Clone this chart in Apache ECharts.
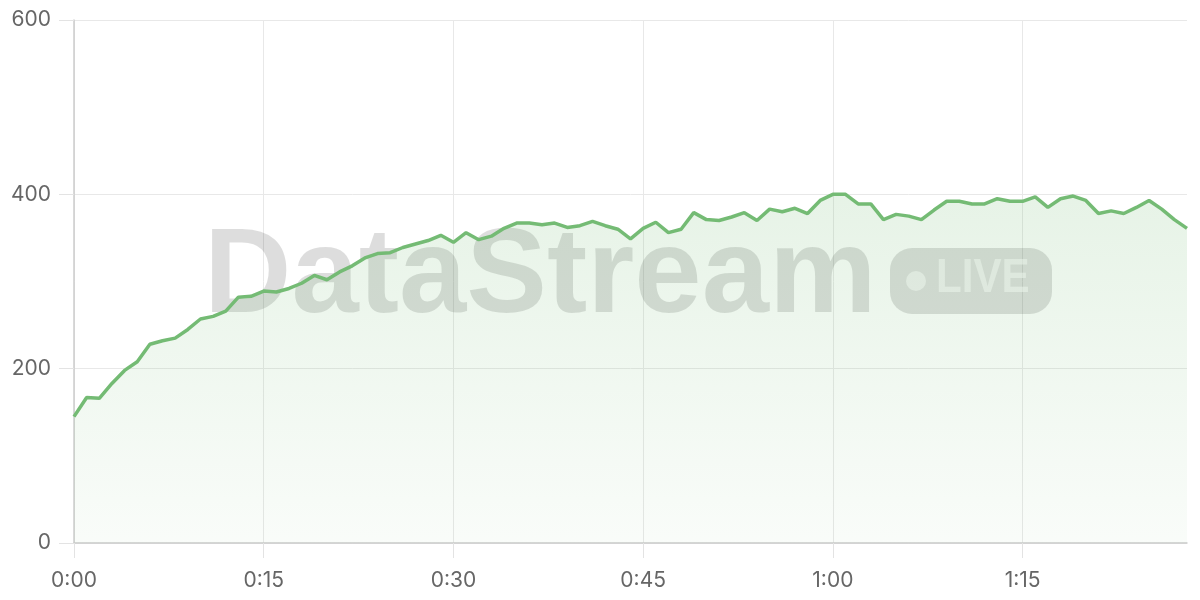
<!DOCTYPE html>
<html>
<head>
<meta charset="utf-8">
<script src="https://cdn.jsdelivr.net/npm/echarts@6/dist/echarts.min.js"></script>
<style>
html,body{margin:0;padding:0;background:#fff;}
#chart{width:1200px;height:600px;}
</style>
</head>
<body>
<div id="chart"></div>
<script>
// Minutes 0..88, one value per minute
var values = [
  145, 167, 166, 183, 198, 208, 228, 232, 235, 245,
  257, 260, 266, 282, 283, 289, 288, 292, 298, 307,
  302, 311, 318, 327, 332, 333, 339, 343, 347, 353,
  345, 356, 348, 352, 361, 367, 367, 365, 367, 362,
  364, 369, 364, 360, 349, 361, 368, 356, 360, 379,
  371, 370, 374, 379, 370, 383, 380, 384, 378, 393,
  400, 400, 389, 389, 371, 377, 375, 371, 382, 392,
  392, 389, 389, 395, 392, 392, 397, 385, 395, 398,
  393, 378, 381, 378, 385, 393, 383, 371, 361
];
var categories = values.map(function (_, i) {
  var h = Math.floor(i / 60), m = i % 60;
  return h + ':' + (m < 10 ? '0' : '') + m;
});
var yTicks = [0, 200, 400, 600];
var watermarkText = 'DataStream';
var badgeText = 'LIVE';

var chart = echarts.init(document.getElementById('chart'));
var FONT = 'Inter';
chart.setOption({
  animation: false,
  backgroundColor: '#ffffff',
  grid: { left: 74, right: 13, top: 20, bottom: 57 },
  graphic: [
    {
      type: 'text', z: 1, left: 204, top: 218,
      style: { text: watermarkText, fill: 'rgba(0,0,0,0.135)', font: 'bold 121px "Liberation Sans", Arial, sans-serif' }
    },
    {
      type: 'rect', z: 1, left: 890, top: 248,
      shape: { width: 162, height: 66, r: 22 },
      style: { fill: 'rgba(0,0,0,0.135)' }
    },
    {
      type: 'circle', z: 1, left: 906, top: 271,
      shape: { r: 10 },
      style: { fill: 'rgba(255,255,255,0.55)' }
    },
    {
      type: 'text', z: 1, x: 936, y: 254, scaleX: 0.86,
      style: { text: badgeText, fill: 'rgba(255,255,255,0.55)', font: 'bold 49px "Liberation Sans", Arial, sans-serif' }
    }
  ],
  xAxis: {
    type: 'category',
    data: categories,
    boundaryGap: false,
    axisLine: { show: true, lineStyle: { color: '#cccccc', width: 1.5 } },
    axisTick: { show: true, interval: 14, length: 15, lineStyle: { color: '#e3e3e3' } },
    axisLabel: { interval: 14, color: '#666666', fontSize: 21, fontFamily: FONT, margin: 27 },
    splitLine: { show: true, interval: 14, lineStyle: { color: '#e8e8e8', width: 1 } }
  },
  yAxis: {
    type: 'value',
    min: yTicks[0], max: yTicks[yTicks.length - 1], interval: 200,
    axisLine: { show: true, lineStyle: { color: '#cccccc', width: 1.5 } },
    axisTick: { show: true, length: 15, lineStyle: { color: '#e3e3e3' } },
    axisLabel: { color: '#666666', fontSize: 21, fontFamily: FONT, margin: 23 },
    splitLine: { show: true, lineStyle: { color: '#e8e8e8', width: 1 } }
  },
  series: [{
    type: 'line',
    data: values,
    z: 3,
    symbol: 'none',
    smooth: false,
    lineStyle: { color: '#74bb74', width: 3.5 },
    areaStyle: {
      color: new echarts.graphic.LinearGradient(0, 0, 0, 1, [
        { offset: 0, color: 'rgba(116,187,116,0.25)' },
        { offset: 1, color: 'rgba(116,187,116,0.06)' }
      ])
    }
  }]
});
</script>
</body>
</html>
